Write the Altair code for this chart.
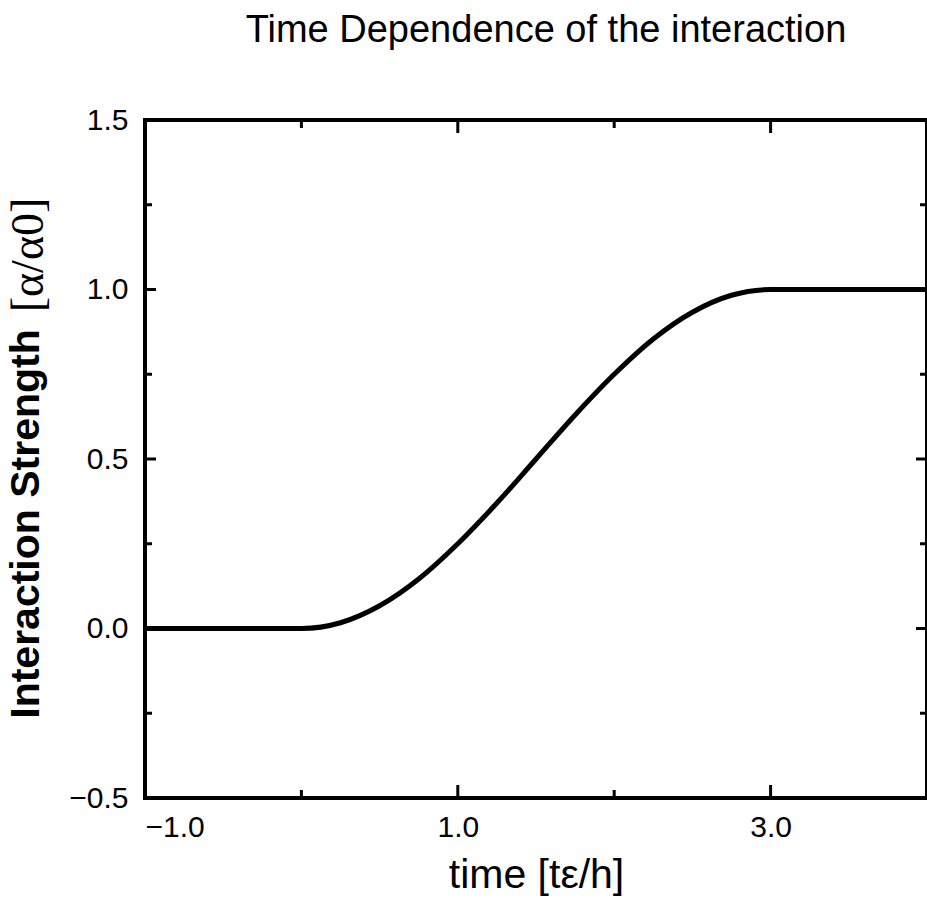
import altair as alt
import pandas as pd

# curve
time_vals = [-1.0, 0.0, 0.25, 0.5, 0.75, 1.0, 1.25, 1.5, 1.75, 2.0, 2.25, 2.5, 2.75, 3.0, 4.0]
strength = [0.0, 0.0, 0.017, 0.067, 0.146, 0.25, 0.37, 0.50, 0.63, 0.75, 0.854, 0.933, 0.983, 1.0, 1.0]

# tick positions
x_major = [-1.0, 1.0, 3.0]
x_minor = [0.0, 2.0]
y_major = [-0.5, 0.0, 0.5, 1.0, 1.5]
y_minor = [-0.25, 0.25, 0.75, 1.25]

W, H = 782, 678
SANS = "Liberation Sans, Arial, Helvetica, sans-serif"

df = pd.DataFrame({"t": time_vals, "a": strength})
xs = alt.Scale(domain=[-1, 4], nice=False, zero=False)
ys = alt.Scale(domain=[-0.5, 1.5], nice=False, zero=False)

x_axis = alt.Axis(
    values=x_major, format=".1f", title="time [tε/h]", domain=False, ticks=False,
    grid=False, labelFont=SANS, labelFontSize=30, labelColor="black", labelPadding=14,
    titleFont=SANS, titleFontSize=41, titleFontWeight="normal", titleColor="black",
    titleBaseline="alphabetic", titleY=89)
y_axis = alt.Axis(
    values=y_major, format=".1f", title=None, domain=False, ticks=False, grid=False,
    labelFont=SANS, labelFontSize=30, labelColor="black", labelPadding=17)

line = alt.Chart(df).mark_line(color="black", strokeWidth=5, interpolate="monotone").encode(
    x=alt.X("t:Q", scale=xs, axis=x_axis),
    y=alt.Y("a:Q", scale=ys, axis=y_axis),
)

def vticks(vals, length, width, side):
    d = pd.DataFrame({"a": vals})
    x0 = 0 if side == "left" else W
    x1 = length if side == "left" else W - length
    return alt.Chart(d).mark_rule(color="black", strokeWidth=width).encode(
        y=alt.Y("a:Q", scale=ys, axis=y_axis), x=alt.value(x0), x2=alt.value(x1))

def hticks(vals, length, width, side):
    d = pd.DataFrame({"t": vals})
    y0 = H if side == "bottom" else 0
    y1 = H - length if side == "bottom" else length
    return alt.Chart(d).mark_rule(color="black", strokeWidth=width).encode(
        x=alt.X("t:Q", scale=xs, axis=x_axis), y=alt.value(y0), y2=alt.value(y1))

ticks = [
    vticks(y_major, 11, 3, "left"), vticks(y_minor, 7, 3, "left"),
    vticks(y_major, 11, 3, "right"), vticks(y_minor, 7, 3, "right"),
    hticks(x_major, 13, 3, "bottom"), hticks(x_minor, 8, 3, "bottom"),
    hticks(x_major, 13, 3, "top"), hticks(x_minor, 8, 3, "top"),
]

ytitle_bold = alt.Chart(pd.DataFrame({"s": ["Interaction Strength"]})).mark_text(
    angle=270, font=SANS, fontWeight="bold", fontSize=41, color="black",
    align="center", baseline="middle").encode(
    text="s:N", x=alt.value(-118), y=alt.value(404))

ytitle_unit = alt.Chart(pd.DataFrame({"s": ["[α/α0]"]})).mark_text(
    angle=270, font="Liberation Serif, Times New Roman, serif", fontSize=46, color="black",
    align="center", baseline="middle").encode(
    text="s:N", x=alt.value(-116), y=alt.value(135))

chart = alt.layer(line, *ticks, ytitle_bold, ytitle_unit).properties(
    width=W, height=H,
    title=alt.TitleParams("Time Dependence of the interaction", font=SANS, fontSize=38,
                          fontWeight="normal", color="black", anchor="middle", dx=10, offset=55),
    autosize=alt.AutoSizeParams(type="none"),
    padding={"left": 145, "top": 120, "right": 0, "bottom": 101},
    background="white",
).configure_view(stroke="black", strokeWidth=4)

chart.save("out.html", embed_options={"renderer": "svg", "actions": False})
